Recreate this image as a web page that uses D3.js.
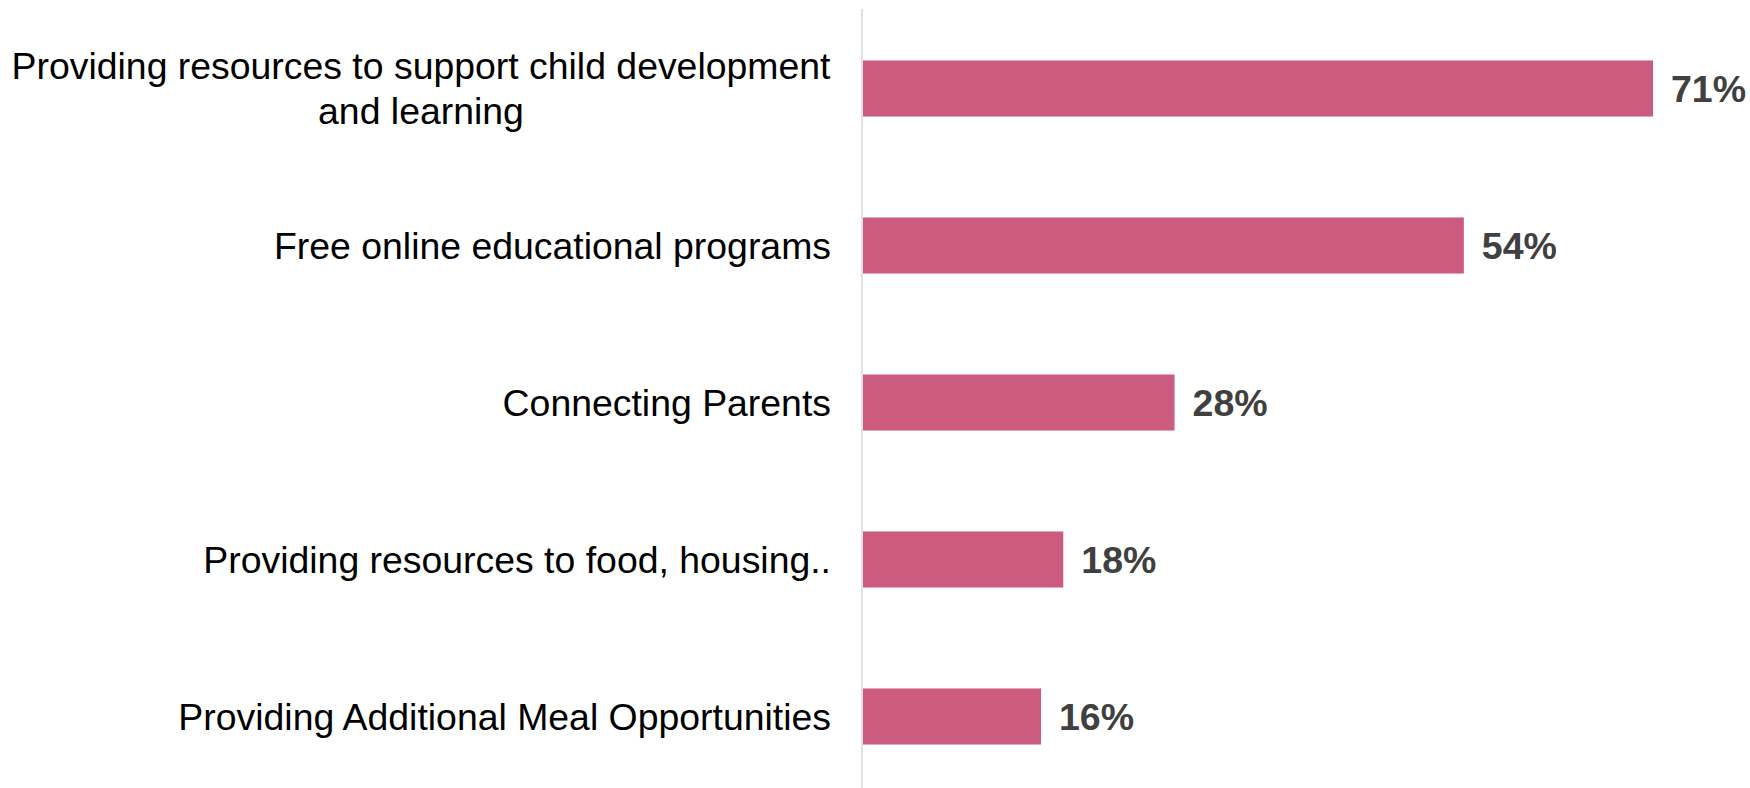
<!DOCTYPE html>
<html>
<head>
<meta charset="utf-8">
<script src="https://cdn.jsdelivr.net/npm/d3@7"></script>
<style>
  html, body { margin: 0; padding: 0; background: #fff; }
  svg { display: block; }
</style>
</head>
<body>
<svg id="chart"></svg>
<script>
// data
const categories = [
  ["Providing resources to support child development", "and learning"],
  ["Free online educational programs"],
  ["Connecting Parents"],
  ["Providing resources to food, housing.."],
  ["Providing Additional Meal Opportunities"]
];
const values = [71, 54, 28, 18, 16];

const width = 1750, height = 788;
const axisX = 862;

const svg = d3.select("#chart")
  .attr("width", width)
  .attr("height", height);

const ids = categories.map((d, i) => i);

const x = d3.scaleLinear()
  .domain([0, 71])
  .range([axisX + 1, 1653]);

const y = d3.scaleBand()
  .domain(ids)
  .range([10, 795])
  .paddingInner(0.643)
  .paddingOuter(0.3215);

// bars
svg.append("g").selectAll("rect")
  .data(values)
  .join("rect")
  .attr("x", x(0))
  .attr("y", (d, i) => y(i))
  .attr("width", d => x(d) - x(0))
  .attr("height", y.bandwidth())
  .attr("fill", "#CB5C7F");

// vertical axis line
svg.append("line")
  .attr("x1", axisX).attr("x2", axisX)
  .attr("y1", 9).attr("y2", height)
  .attr("stroke", "#d9d9d9")
  .attr("stroke-width", 1.5);

// category labels
const fs = 37.4, lh = 44.6;
const labels = svg.append("g")
  .attr("font-family", "'Liberation Sans', Arial, sans-serif")
  .attr("font-size", fs)
  .attr("fill", "#000");

labels.selectAll("text")
  .data(categories)
  .join("text")
  .each(function (lines, i) {
    const t = d3.select(this);
    const cy = y(i) + y.bandwidth() / 2;
    const base = cy + fs * 0.35 - (lines.length - 1) * lh / 2;
    if (lines.length === 1) {
      t.attr("text-anchor", "end")
        .attr("x", 831)
        .attr("y", base)
        .text(lines[0]);
    } else {
      // wrapped label: centered block ending at the same right edge
      t.attr("text-anchor", "middle");
      lines.forEach((ln, k) => {
        t.append("tspan")
          .attr("x", 421)
          .attr("y", base + k * lh)
          .text(ln);
      });
    }
  });

// value labels
svg.append("g")
  .attr("font-family", "'Liberation Sans', Arial, sans-serif")
  .attr("font-size", 37.5)
  .attr("font-weight", "bold")
  .attr("fill", "#404040")
  .selectAll("text")
  .data(values)
  .join("text")
  .attr("x", d => x(d) + 18)
  .attr("y", (d, i) => y(i) + y.bandwidth() / 2 + 37.5 * 0.36)
  .text(d => d + "%");
</script>
</body>
</html>
